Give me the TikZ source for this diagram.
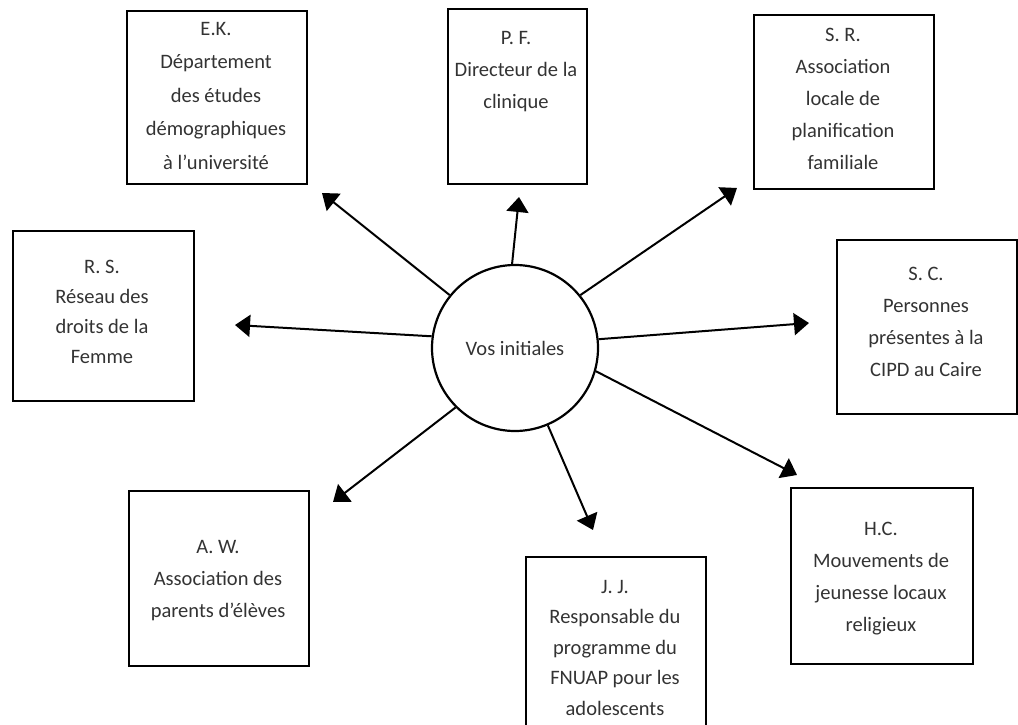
\documentclass[tikz,border=0pt]{standalone}
\usepackage{fontspec}
\setmainfont{Carlito}
\usetikzlibrary{arrows.meta}
\begin{document}
\begin{tikzpicture}[x=1pt,y=-1pt,
  box/.style={draw, line width=2.4pt, anchor=north west, inner sep=0pt},
  lbl/.style={anchor=north, align=center, inner sep=0pt, text=black!80, font=\fontsize{20.5}{32}\selectfont},
  conn/.style={line width=2pt, -{Triangle[length=15pt,width=22pt]}}]
\useasboundingbox (0,0) rectangle (1018,725);
% boxes
\node[box, minimum width=180pt, minimum height=173pt] (ek) at (126,10) {};
\node[box, minimum width=139pt, minimum height=175pt] (pf) at (447,8) {};
\node[box, minimum width=180pt, minimum height=174pt] (sr) at (753,14) {};
\node[box, minimum width=181pt, minimum height=170pt] (rs) at (12,230) {};
\node[box, minimum width=180pt, minimum height=174pt] (sc) at (836,239) {};
\node[box, minimum width=180pt, minimum height=175pt] (aw) at (128,490) {};
\node[box, minimum width=180pt, minimum height=175pt] (jj) at (525,556) {};
\node[box, minimum width=182pt, minimum height=176pt] (hc) at (790,487) {};
% texts
\node[lbl, font=\fontsize{20.5}{33.5}\selectfont] (ekt) at (216,22) {E.K.\\Département\\des études\\démographiques\\à l'université};
\node[lbl] (pft) at (516,31) {P. F.\\Directeur de la\\clinique};
\node[lbl] (srt) at (843,28) {S. R.\\Association\\locale de\\planification\\familiale};
\node[lbl, font=\fontsize{20.5}{30}\selectfont] (rst) at (102,260) {R. S.\\Réseau des\\droits de la\\Femme};
\node[lbl] (sct) at (926,267) {S. C.\\Personnes\\présentes à la\\CIPD au Caire};
\node[lbl] (awt) at (218,540) {A. W.\\Association des\\parents d'élèves};
\node[lbl, font=\fontsize{20.5}{30.5}\selectfont] (jjt) at (615,580) {J. J.\\Responsable du\\programme du\\FNUAP pour les\\adolescents};
\node[lbl] (hct) at (881,522) {H.C.\\Mouvements de\\jeunesse locaux\\religieux};
% centre
\node[circle, draw, line width=2.2pt, minimum size=166pt, inner sep=0pt, text=black!80, font=\fontsize{20.5}{32}\selectfont] (c) at (515,348) {Vos initiales};
% arrow tips
\coordinate (tek) at (322,193);
\coordinate (tpf) at (519,197);
\coordinate (tsr) at (737,188);
\coordinate (trs) at (235,325);
\coordinate (tsc) at (809,323);
\coordinate (taw) at (333,502);
\coordinate (tjj) at (593,530);
\coordinate (thc) at (797,475);
\draw[conn] (c.141.8) -- (tek);
\draw[conn] (c.92) -- (tpf);
\draw[conn] (c.39.7) -- (tsr);
\draw[conn] (c.172.5) -- (trs);
\draw[conn] (c.6.2) -- (tsc);
\draw[conn] (c.225) -- (taw);
\draw[conn] (c.-67.3) -- (tjj);
\draw[conn] (c.-16.7) -- (thc);
\end{tikzpicture}
\end{document}
